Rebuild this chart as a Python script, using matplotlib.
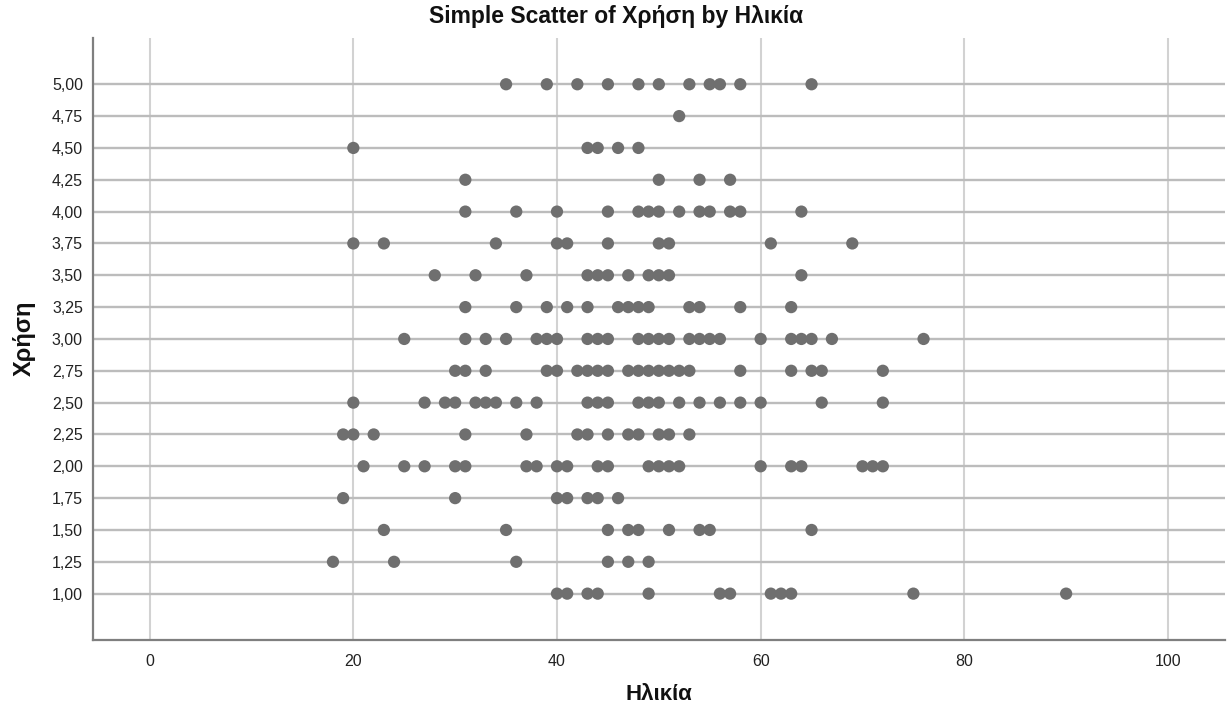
import numpy as np
import matplotlib
matplotlib.use("Agg")
import matplotlib.pyplot as plt
from matplotlib.ticker import FuncFormatter

# Usage score levels (Χρήση) and the ages (Ηλικία) observed at each level
usage_levels = [5.00, 4.75, 4.50, 4.25, 4.00, 3.75, 3.50, 3.25, 3.00,
                2.75, 2.50, 2.25, 2.00, 1.75, 1.50, 1.25, 1.00]

ages_500 = [35, 39, 42, 45, 48, 50, 53, 55, 56, 58, 65]
ages_475 = [52]
ages_450 = [20, 43, 44, 46, 48]
ages_425 = [31, 50, 54, 57]
ages_400 = [31, 36, 40, 45, 48, 49, 50, 52, 54, 55, 57, 58, 64]
ages_375 = [20, 23, 34, 40, 41, 45, 50, 51, 61, 69]
ages_350 = [28, 32, 37, 43, 44, 45, 47, 49, 50, 51, 64]
ages_325 = [31, 36, 39, 41, 43, 46, 47, 48, 49, 53, 54, 58, 63]
ages_300 = [25, 31, 33, 35, 38, 39, 40, 43, 44, 45, 48, 49, 50, 51,
            53, 54, 55, 56, 60, 63, 64, 65, 67, 76]
ages_275 = [30, 31, 33, 39, 40, 42, 43, 44, 45, 47, 48, 49, 50, 51,
            52, 53, 58, 63, 65, 66, 72]
ages_250 = [20, 27, 29, 30, 32, 33, 34, 36, 38, 43, 44, 45, 48, 49,
            50, 52, 54, 56, 58, 60, 66, 72]
ages_225 = [19, 20, 22, 31, 37, 42, 43, 45, 47, 48, 50, 51, 53]
ages_200 = [21, 25, 27, 30, 31, 37, 38, 40, 41, 44, 45, 49, 50, 51,
            52, 60, 63, 64, 70, 71, 72]
ages_175 = [19, 30, 40, 41, 43, 44, 46]
ages_150 = [23, 35, 45, 47, 48, 51, 54, 55, 65]
ages_125 = [18, 24, 36, 45, 47, 49]
ages_100 = [40, 41, 43, 44, 49, 56, 57, 61, 62, 63, 75, 90]

ages_by_level = [ages_500, ages_475, ages_450, ages_425, ages_400, ages_375,
                 ages_350, ages_325, ages_300, ages_275, ages_250, ages_225,
                 ages_200, ages_175, ages_150, ages_125, ages_100]

x_ticks = [0, 20, 40, 60, 80, 100]
y_ticks = [1.00, 1.25, 1.50, 1.75, 2.00, 2.25, 2.50, 2.75, 3.00,
           3.25, 3.50, 3.75, 4.00, 4.25, 4.50, 4.75, 5.00]

title_text = "Simple Scatter of Χρήση by Ηλικία"
x_label = "Ηλικία"
y_label = "Χρήση"

age = np.concatenate([np.asarray(a, dtype=float) for a in ages_by_level])
usage = np.concatenate([np.full(len(a), lvl) for a, lvl in zip(ages_by_level, usage_levels)])

plt.rcParams["font.family"] = ["Liberation Sans", "DejaVu Sans"]

W, H = 1232, 713
fig = plt.figure(figsize=(W / 100, H / 100), dpi=100)
ax = fig.add_axes([0.0752, 0.1024, 0.9191, 0.8439])

ax.scatter(age, usage, s=78, color="#6f6f6f", edgecolors="none", zorder=3)

ax.set_xlim(-5.6, 105.6)
ax.set_ylim(0.636, 5.361)
ax.set_xticks(x_ticks)
ax.set_yticks(y_ticks)
ax.yaxis.set_major_formatter(FuncFormatter(lambda v, p: f"{v:.2f}".replace(".", ",")))

ax.set_axisbelow(True)
ax.xaxis.grid(True, color="#d2d2d2", linewidth=1.5)
ax.yaxis.grid(True, color="#bcbcbc", linewidth=1.7)

for side in ("top", "right"):
    ax.spines[side].set_visible(False)
for side in ("left", "bottom"):
    ax.spines[side].set_color("#7f7f7f")
    ax.spines[side].set_linewidth(1.6)

ax.tick_params(axis="both", length=0, labelsize=11.5, colors="#222222")
ax.tick_params(axis="x", pad=10)
ax.tick_params(axis="y", pad=7)

# Axis titles and chart title placed in figure pixels
fig.text(659 / W, 1 - 695 / H, x_label, ha="center", va="center",
         fontsize=16, fontweight="bold", color="#111111")
fig.text(24 / W, 1 - 338 / H, y_label, ha="center", va="center", rotation=90,
         fontsize=17, fontweight="bold", color="#111111")
fig.text(0.5, 1 - 16 / H, title_text, ha="center", va="center",
         fontsize=16.5, fontweight="bold", color="#111111")

fig.savefig("out.png", dpi=100)
